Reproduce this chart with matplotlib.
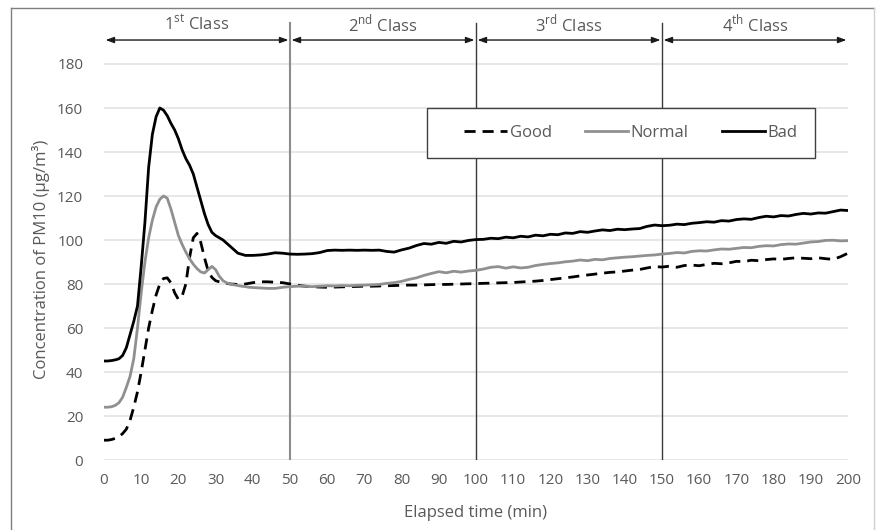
import numpy as np
import matplotlib
matplotlib.use("Agg")
import matplotlib.pyplot as plt
from matplotlib.lines import Line2D
from matplotlib.patches import Rectangle

plt.rcParams["font.family"] = ["Open Sans", "DejaVu Sans"]
plt.rcParams["mathtext.fontset"] = "custom"
plt.rcParams["mathtext.rm"] = "Open Sans"

# elapsed time (min): every minute up to 39, then every 2 minutes
time_fine = np.arange(0, 40, 1)
time_coarse = np.arange(40, 201, 2)
elapsed = np.concatenate([time_fine, time_coarse])

bad = [
    45, 45, 45.2, 45.5, 46, 47.5, 51, 57, 63, 70,
    88, 108, 133, 148, 156, 160, 159, 156.5, 153, 150,
    146, 141, 137, 134, 130, 124, 118, 112, 107, 103.5,
    102, 101, 100, 98.5, 97, 95.5, 94, 93.5, 93, 93,
    # 40..200 step 2
    93, 93.2, 93.6, 94.2, 94, 93.6, 93.5, 93.6, 93.8, 94.3,
    95.2, 95.4, 95.3, 95.4, 95.3, 95.4, 95.3, 95.4, 94.8, 94.5,
    95.5, 96.3, 97.5, 98.4, 98.1, 98.9, 98.5, 99.4, 99.1, 99.8,
    100.2, 100.3, 100.8, 100.6, 101.3, 101, 101.7, 101.4, 102.2, 101.9,
    102.6, 102.4, 103.2, 103, 103.8, 103.5, 104.1, 104.6, 104.3, 104.9,
    104.7, 105, 105.2, 106.2, 106.8, 106.5, 106.7, 107.2, 107, 107.6,
    107.9, 108.3, 108.1, 108.8, 108.6, 109.3, 109.6, 109.4, 110.2, 110.8,
    110.5, 111.1, 110.9, 111.6, 112.1, 111.8, 112.3, 112.2, 112.9, 113.6,
    113.4,
]

normal = [
    24, 24, 24.2, 24.8, 26, 28.5, 33, 38, 46, 60,
    76, 90, 101, 109, 115, 118.5, 120, 119, 114, 108,
    102, 98, 94.5, 91.5, 89, 87, 85.5, 85, 86.5, 88,
    86.5, 83.5, 81.5, 80.5, 80, 79.6, 79.3, 79, 78.8, 78.5,
    # 40..200 step 2
    78.4, 78.2, 78, 78, 78.5, 78.8, 79, 79, 78.8, 79,
    79.2, 79.1, 79.3, 79.2, 79.4, 79.5, 79.6, 79.8, 80.3, 80.6,
    81.2, 82.1, 82.8, 83.9, 84.8, 85.6, 85.1, 85.8, 85.4, 85.9,
    86.2, 86.8, 87.6, 87.9, 87.2, 87.8, 87.3, 87.6, 88.4, 88.9,
    89.3, 89.6, 90.1, 90.4, 90.9, 90.6, 91.2, 91, 91.6, 91.9,
    92.2, 92.4, 92.7, 93, 93.2, 93.6, 93.9, 94.3, 94.1, 94.8,
    95.1, 95, 95.5, 95.9, 95.8, 96.2, 96.6, 96.5, 97.1, 97.4,
    97.3, 97.9, 98.2, 98.1, 98.6, 99.1, 99.3, 99.8, 99.9, 99.6,
    99.7,
]

good = [
    9, 9, 9.3, 9.8, 10.5, 12, 14, 18, 24, 31,
    40, 50, 60, 68, 75, 80, 82.5, 82.8, 80.5, 76,
    73, 74.5, 80, 92, 101, 103, 99, 92, 86, 83,
    81.5, 81, 80.6, 80.3, 80, 79.9, 79.8, 79.8, 80, 80.3,
    # 40..200 step 2
    80.6, 81, 81, 80.8, 80.6, 80, 79.4, 79, 78.8, 78.6,
    78.5, 78.6, 78.7, 78.8, 78.9, 79, 79, 79.1, 79.2, 79.3,
    79.4, 79.5, 79.5, 79.6, 79.7, 79.8, 79.8, 79.9, 80, 80.1,
    80.2, 80.3, 80.4, 80.5, 80.6, 80.7, 80.9, 81.1, 81.3, 81.6,
    82, 82.4, 82.8, 83.2, 83.7, 84.1, 84.5, 84.9, 85.3, 85.5,
    85.9, 86.3, 86.6, 87.3, 87.9, 87.7, 88.1, 87.6, 88.4, 88.6,
    88.3, 88.9, 89.4, 89.2, 89.6, 90.3, 90.2, 90.8, 90.6, 91.1,
    91.4, 91.2, 91.6, 91.9, 91.7, 91.5, 91.9, 91.5, 91.2, 92.4,
    94,
]

class_bounds = [0, 50, 100, 150, 200]
class_labels = ["1$^{\\rm st}$ Class", "2$^{\\rm nd}$ Class",
                "3$^{\\rm rd}$ Class", "4$^{\\rm th}$ Class"]
x_ticks = list(range(0, 201, 10))
y_ticks = list(range(0, 181, 20))

TXT = "#595959"
GRID = "#e3e3e3"

fig = plt.figure(figsize=(8.77, 5.30), dpi=100)
ax = fig.add_axes([104 / 877, 70 / 530, 744 / 877, 440 / 530])

# frame around the whole chart
fig.add_artist(Line2D([11 / 877, 11 / 877], [0, 1 - 8 / 530],
                      transform=fig.transFigure, color="#7f7f7f", lw=1))
fig.add_artist(Line2D([11 / 877, 874 / 877], [1 - 8 / 530, 1 - 8 / 530],
                      transform=fig.transFigure, color="#7f7f7f", lw=1))
fig.add_artist(Line2D([874 / 877, 874 / 877], [0, 1 - 8 / 530],
                      transform=fig.transFigure, color="#d0d0d0", lw=1))

ax.set_xlim(0, 200)
ax.set_ylim(0, 200)
ax.set_xticks(x_ticks)
ax.set_yticks(y_ticks)
for s in ax.spines.values():
    s.set_visible(False)
ax.tick_params(length=0, labelsize=11, colors=TXT)
ax.tick_params(axis="y", pad=15)
ax.tick_params(axis="x", pad=9)
for yv in y_ticks:
    ax.axhline(yv, color=GRID, lw=1.2, zorder=0)

# class separators
ax.plot([50, 50], [0, 198.5], color="#8c8c8c", lw=1.5, zorder=1)
for xv in class_bounds[2:4]:
    ax.plot([xv, xv], [0, 198.5], color="#3a3a3a", lw=1, zorder=1)

for i, lab in enumerate(class_labels):
    x0, x1 = class_bounds[i], class_bounds[i + 1]
    ax.annotate("", xy=(x0 + 0.4, 190.9), xytext=(x1 - 0.4, 190.9),
                arrowprops=dict(arrowstyle="<|-|>,head_length=0.5,head_width=0.18",
                                color="#1a1a1a", lw=1, shrinkA=0, shrinkB=0))
    ax.text((x0 + x1) / 2, 198.2, lab, ha="center", va="center",
            fontsize=12, color=TXT)

ax.plot(elapsed, good, color="black", lw=2, ls=(0, (4, 2.5)), label="Good", zorder=3)
ax.plot(elapsed, normal, color="#909090", lw=2, label="Normal", zorder=3)
ax.plot(elapsed, bad, color="black", lw=2, label="Bad", zorder=4)

# legend box drawn separately so its size matches the chart
ax.add_patch(Rectangle((0.434, 0.686), 0.522, 0.114, transform=ax.transAxes,
                       facecolor="white", edgecolor="#404040", lw=1, zorder=5))
leg = ax.legend(loc="center", bbox_to_anchor=(0.708, 0.743), ncol=3,
                frameon=False, fontsize=12, handlelength=2.6,
                handletextpad=0.15, columnspacing=2.0, labelcolor=TXT)
leg.set_zorder(6)

ax.set_xlabel("Elapsed time (min)", fontsize=12, color=TXT)
ax.xaxis.set_label_coords(0.5, -0.12)
ax.xaxis.label.set_va("center")
ax.set_ylabel("Concentration of PM10 (\u03bcg/m\u00b3)", fontsize=12, color=TXT)
ax.yaxis.set_label_coords(-0.085, 0.455)
ax.yaxis.label.set_va("center")

fig.savefig("out.png", dpi=100)
